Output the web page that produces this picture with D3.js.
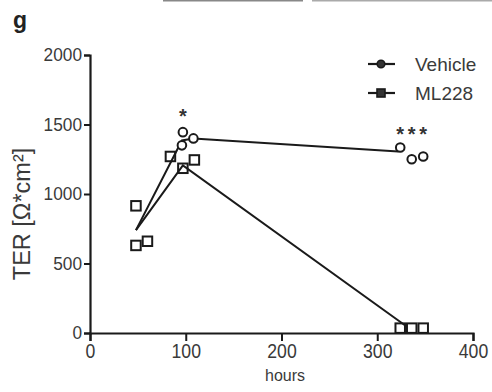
<!DOCTYPE html>
<html>
<head>
<meta charset="utf-8">
<script src="https://cdn.jsdelivr.net/npm/d3@7"></script>
<style>
  html, body { margin: 0; padding: 0; background: #fff; }
  svg { display: block; }
  text { font-family: "Liberation Sans", Arial, sans-serif; }
</style>
</head>
<body>
<script>
// Transepithelial resistance over time, Vehicle vs ML228
const vehicleHours  = [97, 96, 108, 324, 336, 348];
const vehicleValues = [1445, 1350, 1400, 1335, 1250, 1270];
const ml228Hours    = [48, 48, 60, 84, 97, 109, 324, 336, 348];
const ml228Values   = [915, 630, 660, 1270, 1185, 1245, 35, 35, 35];

// group means joined by the lines
const vehicleLineHours  = [48, 96, 108, 322];
const vehicleLineValues = [740, 1385, 1400, 1305];
const ml228LineHours    = [48, 97, 330];
const ml228LineValues   = [740, 1205, 50];

// significance marks
const starHours  = [97, 324, 336, 348];
const starLevels = [1590, 1460, 1460, 1460];

const xTicks = [0, 100, 200, 300, 400];
const yTicks = [0, 500, 1000, 1500, 2000];
const seriesNames = ["Vehicle", "ML228"];

const W = 492, H = 392;
const ink = "#1a1a1a", textCol = "#3a3a3a";

const svg = d3.select("body").append("svg")
  .attr("width", W).attr("height", H);

svg.append("rect").attr("width", W).attr("height", H).attr("fill", "#fff");

// edge of the neighbouring panel row
svg.append("rect").attr("x", 163).attr("y", 0).attr("width", 140).attr("height", 1.5).attr("fill", "#888");
svg.append("rect").attr("x", 312).attr("y", 0).attr("width", 180).attr("height", 1.5).attr("fill", "#aaa");

const x = d3.scaleLinear().domain([0, 400]).range([90, 473]);
const y = d3.scaleLinear().domain([0, 2000]).range([333, 55]);

// panel letter
svg.append("text").attr("x", 13).attr("y", 28)
  .attr("font-size", 23).attr("font-weight", "bold").attr("fill", "#222")
  .text("g");

// axes
const yAxis = svg.append("g").attr("transform", `translate(${x(0)},0)`)
  .call(d3.axisLeft(y).tickValues(yTicks).tickSize(6).tickPadding(2).tickFormat(d3.format("d")));
const xAxis = svg.append("g").attr("transform", `translate(0,${y(0)})`)
  .call(d3.axisBottom(x).tickValues(xTicks).tickSize(8).tickPadding(3).tickFormat(d3.format("d")));

[yAxis, xAxis].forEach(a => {
  a.select(".domain").attr("stroke", ink).attr("stroke-width", 2.2);
  a.selectAll(".tick line").attr("stroke", ink).attr("stroke-width", 2);
  a.selectAll(".tick text").attr("fill", textCol)
    .attr("font-family", "'Liberation Sans', Arial, sans-serif");
});
// slightly condensed tick digits
yAxis.selectAll(".tick text").attr("font-size", 18.5)
  .attr("textLength", d => String(d).length * 9.6).attr("lengthAdjust", "spacingAndGlyphs");
xAxis.selectAll(".tick text").attr("font-size", 20)
  .attr("textLength", d => String(d).length * 9.8).attr("lengthAdjust", "spacingAndGlyphs");

// axis titles
svg.append("text").attr("x", 285).attr("y", 381)
  .attr("text-anchor", "middle").attr("font-size", 16).attr("fill", textCol)
  .text("hours");

svg.append("text")
  .attr("transform", `translate(30,${214}) rotate(-90)`)
  .attr("text-anchor", "middle").attr("font-size", 23.5).attr("fill", textCol)
  .text("TER [Ω*cm²]");

// mean lines
const line = d3.line().x(d => x(d[0])).y(d => y(d[1]));
svg.append("path").datum(d3.zip(vehicleLineHours, vehicleLineValues))
  .attr("d", line).attr("fill", "none").attr("stroke", ink).attr("stroke-width", 2);
svg.append("path").datum(d3.zip(ml228LineHours, ml228LineValues))
  .attr("d", line).attr("fill", "none").attr("stroke", ink).attr("stroke-width", 2);

// individual measurements
svg.append("g").selectAll("rect").data(d3.zip(ml228Hours, ml228Values)).join("rect")
  .attr("x", d => x(d[0]) - 4.75).attr("y", d => y(d[1]) - 4.75)
  .attr("width", 9.5).attr("height", 9.5)
  .attr("fill", "none").attr("stroke", ink).attr("stroke-width", 2);

svg.append("g").selectAll("circle").data(d3.zip(vehicleHours, vehicleValues)).join("circle")
  .attr("cx", d => x(d[0])).attr("cy", d => y(d[1])).attr("r", 4.3)
  .attr("fill", "#fff").attr("stroke", ink).attr("stroke-width", 2);

// asterisks
svg.append("g").selectAll("text").data(d3.zip(starHours, starLevels)).join("text")
  .attr("x", d => x(d[0])).attr("y", d => y(d[1]) + 11)
  .attr("text-anchor", "middle").attr("font-size", 20).attr("font-weight", "bold").attr("fill", "#333")
  .text("*");

// legend
const legend = svg.append("g");
seriesNames.forEach((name, i) => {
  const ly = 64 + i * 29;
  legend.append("line").attr("x1", 368).attr("x2", 395).attr("y1", ly).attr("y2", ly)
    .attr("stroke", ink).attr("stroke-width", 2.2);
  if (i === 0) {
    legend.append("circle").attr("cx", 381).attr("cy", ly).attr("r", 3.8)
      .attr("fill", "#333").attr("stroke", ink).attr("stroke-width", 1.6);
  } else {
    legend.append("rect").attr("x", 377).attr("y", ly - 4).attr("width", 8).attr("height", 8)
      .attr("fill", "#333").attr("stroke", ink).attr("stroke-width", 1.6);
  }
  legend.append("text").attr("x", 415).attr("y", ly).attr("dy", "0.36em")
    .attr("font-size", 19).attr("fill", textCol).text(name);
});
</script>
</body>
</html>
